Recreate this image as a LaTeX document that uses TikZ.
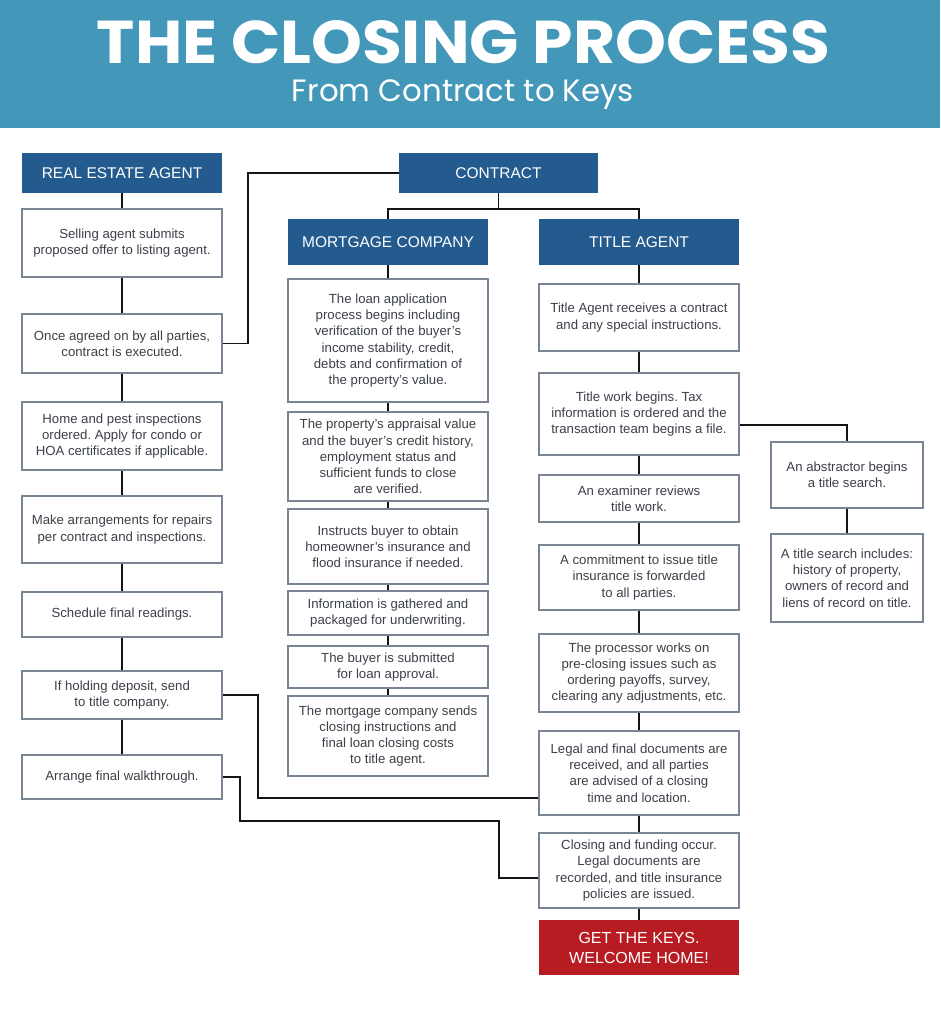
\documentclass[tikz,border=0pt]{standalone}
\usepackage{fontspec}
\setmainfont{Liberation Sans}
\newfontfamily\titlefont{Poppins}
\frenchspacing
\definecolor{band}{HTML}{4398BA}
\definecolor{hdrblue}{HTML}{245B8E}
\definecolor{keyred}{HTML}{B71C22}
\definecolor{boxgray}{HTML}{7A8594}
\definecolor{txtgray}{HTML}{3C4049}
\tikzset{
  hdr/.style={fill=hdrblue, text=white, font=\fontsize{15.5}{18}\selectfont, inner sep=0pt, align=center, minimum width=200pt},
  box/.style={draw=boxgray, line width=1.1pt, fill=white, text=txtgray, font=\fontsize{13.2}{16.2}\selectfont, align=center, inner sep=0pt, minimum width=200pt},
  conn/.style={line width=1.9pt, draw=black!92},
}
\begin{document}
\begin{tikzpicture}[x=1pt,y=-1pt]
\useasboundingbox (0,0) rectangle (940,1024);
\fill[white] (0,0) rectangle (940,1024);
\fill[band] (0,0) rectangle (940,128);
\node[text=white, inner sep=0pt] (title) at (463.5,42.5) {\resizebox{733pt}{43pt}{\titlefont\bfseries THE CLOSING PROCESS}};
\node[text=white, inner sep=0pt, anchor=base] (sub) at (463,102) {\resizebox{342pt}{!}{\titlefont From Contract to Keys}};

% left column
\node[hdr, minimum height=40pt] (rea) at (122,173) {REAL ESTATE AGENT};
\node[box, minimum height=68pt] (l1) at (122,243) {Selling agent submits\\proposed offer to listing agent.};
\node[box, minimum height=59pt] (l2) at (122,343.5) {Once agreed on by all parties,\\contract is executed.};
\node[box, minimum height=68pt] (l3) at (122,436) {Home and pest inspections\\ordered. Apply for condo or\\HOA certificates if applicable.};
\node[box, minimum height=67pt] (l4) at (122,529.5) {Make arrangements for repairs\\per contract and inspections.};
\node[box, minimum height=45pt] (l5) at (122,614.5) {Schedule final readings.};
\node[box, minimum height=48pt] (l6) at (122,695) {If holding deposit, send\\to title company.};
\node[box, minimum height=44pt] (l7) at (122,777) {Arrange final walkthrough.};

% contract
\node[hdr, minimum height=40pt, minimum width=199pt] (contract) at (498.5,173) {CONTRACT};

% mortgage column
\node[hdr, minimum height=46pt] (mort) at (388,242) {MORTGAGE COMPANY};
\node[box, minimum height=123pt] (m1) at (388,340.5) {The loan application\\process begins including\\verification of the buyer's\\income stability, credit,\\debts and confirmation of\\the property's value.};
\node[box, minimum height=89pt] (m2) at (388,456.5) {The property's appraisal value\\and the buyer's credit history,\\employment status and\\sufficient funds to close\\are verified.};
\node[box, minimum height=75pt] (m3) at (388,546.5) {Instructs buyer to obtain\\homeowner's insurance and\\flood insurance if needed.};
\node[box, minimum height=44pt] (m4) at (388,613) {Information is gathered and\\packaged for underwriting.};
\node[box, minimum height=42pt] (m5) at (388,667) {The buyer is submitted\\for loan approval.};
\node[box, minimum height=80pt] (m6) at (388,736) {The mortgage company sends\\closing instructions and\\final loan closing costs\\to title agent.};

% title column
\node[hdr, minimum height=46pt] (tagent) at (639,242) {TITLE AGENT};
\node[box, minimum height=67pt] (t1) at (639,317.5) {Title Agent receives a contract\\and any special instructions.};
\node[box, minimum height=82pt] (t2) at (639,414) {Title work begins. Tax\\information is ordered and the\\transaction team begins a file.};
\node[box, minimum height=47pt] (t3) at (639,498.5) {An examiner reviews\\title work.};
\node[box, minimum height=65pt] (t4) at (639,577.5) {A commitment to issue title\\insurance is forwarded\\to all parties.};
\node[box, minimum height=78pt] (t5) at (639,673) {The processor works on\\pre-closing issues such as\\ordering payoffs, survey,\\clearing any adjustments, etc.};
\node[box, minimum height=84pt] (t6) at (639,773) {Legal and final documents are\\received, and all parties\\are advised of a closing\\time and location.};
\node[box, minimum height=75pt] (t7) at (639,870.5) {Closing and funding occur.\\Legal documents are\\recorded, and title insurance\\policies are issued.};
\node[fill=keyred, text=white, font=\fontsize{16}{20}\selectfont, align=center, inner sep=0pt, minimum width=200pt, minimum height=55pt] (keys) at (639,947.5) {GET THE KEYS.\\WELCOME HOME!};

% abstractor column
\node[box, minimum width=152pt, minimum height=66pt] (a1) at (847,475) {An abstractor begins\\a title search.};
\node[box, minimum width=152pt, minimum height=88pt] (a2) at (847,578) {A title search includes:\\history of property,\\owners of record and\\liens of record on title.};

% vertical connectors
\foreach \a/\b in {rea/l1,l1/l2,l2/l3,l3/l4,l4/l5,l5/l6,l6/l7,
                   mort/m1,m1/m2,m2/m3,m3/m4,m4/m5,m5/m6,
                   tagent/t1,t1/t2,t2/t3,t3/t4,t4/t5,t5/t6,t6/t7,t7/keys,
                   a1/a2}
  \draw[conn] (\a.south) -- (\b.north);

% contract branches
\draw[conn] (contract.south) -- ++(0,16) coordinate (cj) -| (mort.north);
\draw[conn] (cj) -| (tagent.north);
\draw[conn] (contract.west) -- ++(-151,0) |- (l2.east);

% title work to abstractor
\draw[conn] ([yshift=-11pt]t2.east) -| (a1.north);

% deposit to legal documents
\draw[conn] (l6.east) -- ++(35,0) |- ([yshift=-25pt]t6.west);

% walkthrough to closing
\coordinate (j7) at (499,821);
\draw[conn] (l7.east) -- ++(17,0) |- (j7) |- ([yshift=-7.5pt]t7.west);
\end{tikzpicture}
\end{document}
